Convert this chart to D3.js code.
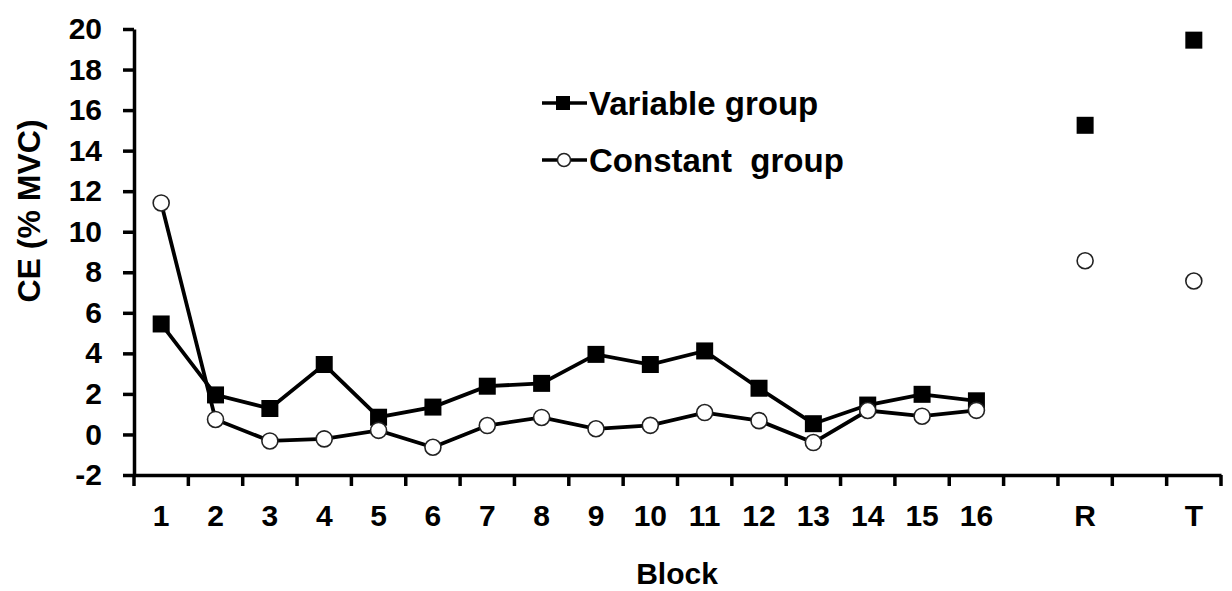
<!DOCTYPE html>
<html>
<head>
<meta charset="utf-8">
<script src="https://cdn.jsdelivr.net/npm/d3@7"></script>
<style>
  body { margin: 0; background: #fff; }
  svg { display: block; font-family: "Liberation Sans", Arial, sans-serif; font-weight: bold; }
</style>
</head>
<body>
<svg width="1232" height="591"></svg>
<script>
// Category labels along the x axis (blank slots keep the gap before R and T)
const categories = ["1","2","3","4","5","6","7","8","9","10","11","12","13","14","15","16","","R","","T"];
const blocks = ["1","2","3","4","5","6","7","8","9","10","11","12","13","14","15","16"];

// CE (% MVC) per block
const variableGroup = [5.45, 1.95, 1.28, 3.45, 0.85, 1.35, 2.38, 2.52, 3.95, 3.45, 4.12, 2.28, 0.53, 1.45, 1.98, 1.66];
const constantGroup = [11.42, 0.74, -0.32, -0.22, 0.2, -0.63, 0.44, 0.84, 0.28, 0.45, 1.08, 0.68, -0.4, 1.18, 0.9, 1.19];

// Retention (R) and transfer (T) tests
const testLabels = ["R", "T"];
const variableTests = [15.25, 19.45];
const constantTests = [8.57, 7.57];

const yTicks = [-2, 0, 2, 4, 6, 8, 10, 12, 14, 16, 18, 20];

const svg = d3.select("svg");

const x = d3.scaleBand()
    .domain(d3.range(categories.length))
    .range([134, 1221])
    .padding(0);
const y = d3.scaleLinear().domain([-2, 20]).range([475, 29]);

const cx = label => x(categories.indexOf(label)) + x.bandwidth() / 2;

// Y axis (plain hyphen for negatives, as in the original)
const yAxis = svg.append("g")
    .attr("transform", "translate(134,0)")
    .call(d3.axisLeft(y).tickValues(yTicks).tickFormat(d => String(d))
        .tickSize(11).tickSizeOuter(0).tickPadding(21));
yAxis.select(".domain").attr("stroke-width", 3.5);
yAxis.selectAll(".tick line").attr("stroke-width", 3.5);
yAxis.selectAll(".tick text").attr("font-size", 30).attr("fill", "#000");

// X axis: labels centred in bands, ticks on band edges
const xAxis = svg.append("g")
    .attr("transform", "translate(0,475)")
    .call(d3.axisBottom(x).tickSize(0).tickPadding(30).tickFormat(i => categories[i]));
xAxis.select(".domain").attr("stroke-width", 3.5);
xAxis.selectAll(".tick text").attr("font-size", 30).attr("fill", "#000");

xAxis.selectAll(".edge")
    .data(d3.range(categories.length + 1))
    .join("line")
    .attr("class", "edge")
    .attr("x1", i => i < categories.length ? x(i) : x.range()[1])
    .attr("x2", i => i < categories.length ? x(i) : x.range()[1])
    .attr("y1", 0)
    .attr("y2", 11)
    .attr("stroke", "#000")
    .attr("stroke-width", 3.5);

// Axis titles
svg.append("text")
    .attr("x", 677)
    .attr("y", 584)
    .attr("text-anchor", "middle")
    .attr("font-size", 30)
    .text("Block");

svg.append("text")
    .attr("transform", "translate(40,211) rotate(-90)")
    .attr("text-anchor", "middle")
    .attr("font-size", 32)
    .text("CE (% MVC)");

// Lines
const line = d3.line()
    .x((d, i) => cx(blocks[i]))
    .y(d => y(d));

function drawSquares(values, labels) {
    svg.append("g").selectAll("rect")
        .data(values)
        .join("rect")
        .attr("x", (d, i) => cx(labels[i]) - 8.5)
        .attr("y", d => y(d) - 8.5)
        .attr("width", 17)
        .attr("height", 17)
        .attr("fill", "#000");
}

function drawCircles(values, labels) {
    svg.append("g").selectAll("circle")
        .data(values)
        .join("circle")
        .attr("cx", (d, i) => cx(labels[i]))
        .attr("cy", d => y(d))
        .attr("r", 8)
        .attr("fill", "#fff")
        .attr("stroke", "#222")
        .attr("stroke-width", 1.6);
}

svg.append("path")
    .datum(variableGroup)
    .attr("d", line)
    .attr("fill", "none")
    .attr("stroke", "#000")
    .attr("stroke-width", 3.8);
drawSquares(variableGroup, blocks);
drawSquares(variableTests, testLabels);

svg.append("path")
    .datum(constantGroup)
    .attr("d", line)
    .attr("fill", "none")
    .attr("stroke", "#000")
    .attr("stroke-width", 3.8);
drawCircles(constantGroup, blocks);
drawCircles(constantTests, testLabels);

// Legend
const legend = svg.append("g");
const legendRows = [
    { label: "Variable group", y: 103, marker: "square" },
    { label: "Constant  group", y: 160, marker: "circle" }
];
legendRows.forEach(r => {
    legend.append("line")
        .attr("x1", 542).attr("x2", 587)
        .attr("y1", r.y).attr("y2", r.y)
        .attr("stroke", "#000").attr("stroke-width", 3.5);
    if (r.marker === "square") {
        legend.append("rect")
            .attr("x", 556).attr("y", r.y - 7)
            .attr("width", 14).attr("height", 14)
            .attr("fill", "#000");
    } else {
        legend.append("circle")
            .attr("cx", 564).attr("cy", r.y).attr("r", 6.5)
            .attr("fill", "#fff").attr("stroke", "#222").attr("stroke-width", 1.5);
    }
    legend.append("text")
        .attr("x", 589)
        .attr("y", r.y + 12)
        .attr("font-size", 33)
        .style("white-space", "pre")
        .text(r.label);
});
</script>
</body>
</html>
